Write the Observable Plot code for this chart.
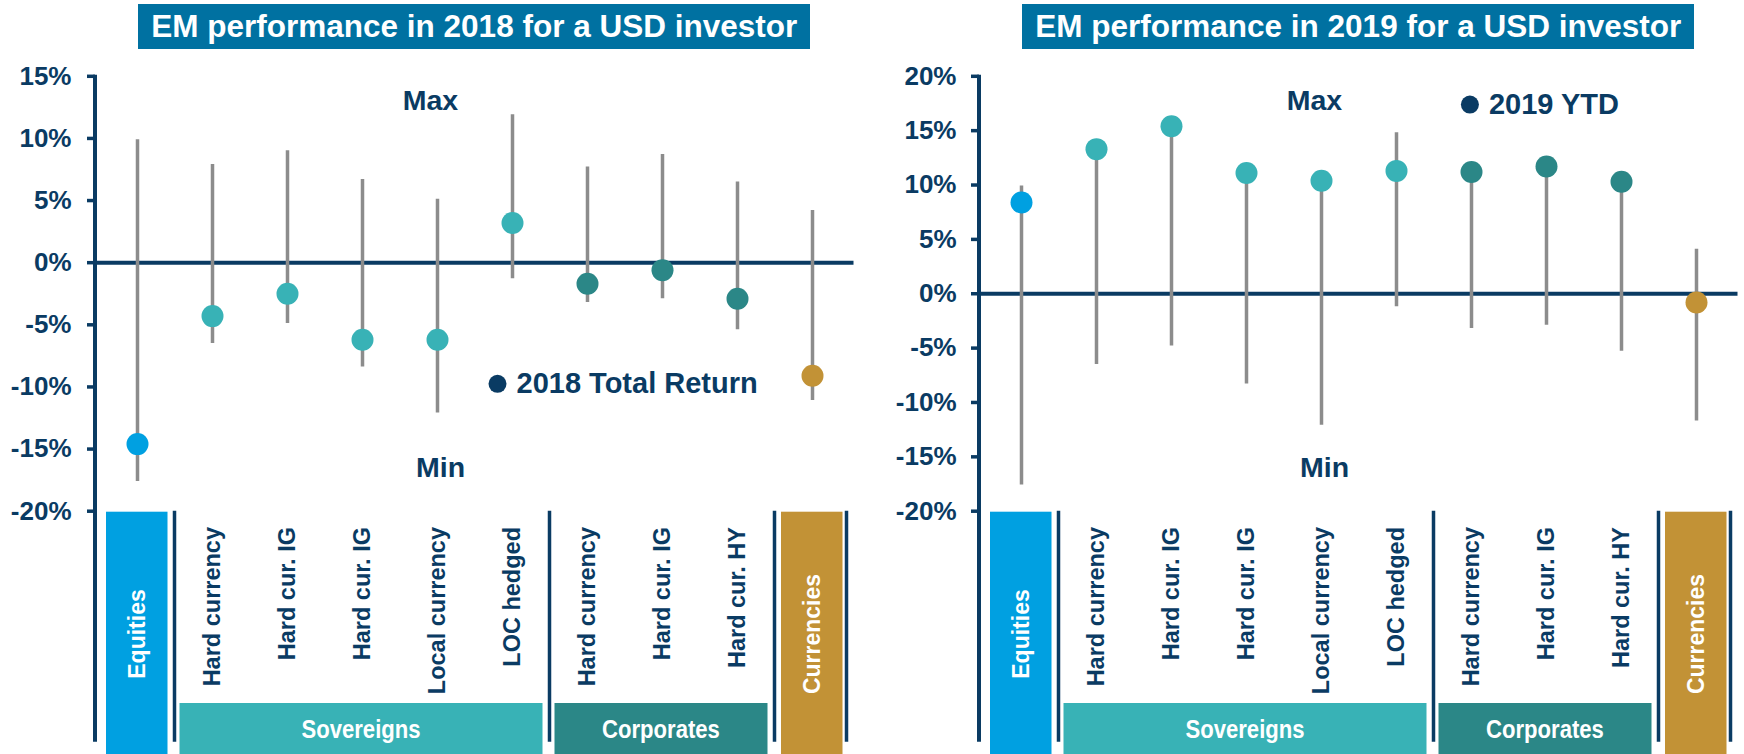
<!DOCTYPE html>
<html><head><meta charset="utf-8">
<script src="https://cdn.jsdelivr.net/npm/d3@7"></script>
<script src="https://cdn.jsdelivr.net/npm/@observablehq/plot@0.6"></script>
<style>
body{margin:0;background:#fff;}
#wrap{display:flex;width:1744px;height:754px;overflow:hidden;}
.panel{position:relative;width:872px;height:754px;}
.title{position:absolute;top:4px;height:45px;background:#0071a1;color:#fff;font:bold 31.5px "Liberation Sans",Arial,sans-serif;line-height:45px;text-align:center;white-space:nowrap;}
svg{display:block}
</style></head><body><div id="wrap"></div>
<script>
// ---- data ----
const categories = ["Equities","Hard currency","Hard cur. IG","Hard cur. IG","Local currency","LOC hedged","Hard currency","Hard cur. IG","Hard cur. HY","Currencies"];
const groupOf = ["Equities","Sovereigns","Sovereigns","Sovereigns","Sovereigns","Sovereigns","Corporates","Corporates","Corporates","Currencies"];
const groupNames = ["Equities","Sovereigns","Corporates","Currencies"];

const min2018 = [-17.6,-6.5,-4.9,-8.4,-12.1,-1.3,-3.2,-2.9,-5.4,-11.1];
const max2018 = [9.9,7.9,9.0,6.7,5.1,11.9,7.7,8.7,6.5,4.2];
const ret2018 = [-14.6,-4.3,-2.5,-6.2,-6.2,3.2,-1.7,-0.6,-2.9,-9.1];

const min2019 = [-17.6,-6.5,-4.8,-8.3,-12.1,-1.2,-3.2,-2.9,-5.3,-11.7];
const max2019 = [9.9,13.3,15.4,11.1,10.4,14.8,11.2,11.7,10.3,4.1];
const ytd2019 = [8.4,13.3,15.4,11.1,10.4,11.3,11.2,11.7,10.3,-0.8];

const ticks2018 = [-20,-15,-10,-5,0,5,10,15];
const ticks2019 = [-20,-15,-10,-5,0,5,10,15,20];

// ---- style ----
const navy = "#0a3b63";
const groupColors = ["#00a0e1","#38b2b6","#2b8787","#c29236"];
const FONT = "'Liberation Sans', Arial, sans-serif";

function makeChart(cfg){
  const W = 872, H = 754;
  const rows = categories.map((c,i)=>({i, cat:c, group:groupOf[i], min:cfg.min[i], max:cfg.max[i], value:cfg.val[i]}));
  const plot = Plot.plot({
    width: W, height: H,
    marginLeft: cfg.marginLeft, marginRight: cfg.marginRight, marginTop: 75.8, marginBottom: 243.3,
    x: {type:"point", domain: d3.range(categories.length), padding: 0.5, axis: null},
    y: {domain: cfg.yDomain, axis: null, label: null},
    color: {domain: groupNames, range: groupColors},
    style: {fontFamily: FONT, fontWeight: "bold", background: "transparent", overflow: "visible"},
    marks: [
      Plot.ruleY([0], {stroke: navy, strokeWidth: 4}),
      Plot.ruleX(rows, {x:"i", y1:"min", y2:"max", stroke:"#8c8c8c", strokeWidth:3.5}),
      Plot.dot(rows, {x:"i", y:"value", r:11, fill:"group"}),
      Plot.axisY({ticks: cfg.ticks, tickFormat: d => d + "%", tickSize: 8, tickPadding: cfg.tickPadding,
        stroke: navy, strokeWidth: 3.5, fill: navy, fontSize: 26, fontWeight: "bold", label: null}),
      Plot.text([{i:4, y:cfg.maxY, t:"Max"}], {x:"i", y:"y", text:"t", dx:-7, fill:navy, fontSize:28.5, fontWeight:"bold"}),
      Plot.text([{i:4, y:cfg.minY, t:"Min"}], {x:"i", y:"y", text:"t", dx:3, fill:navy, fontSize:28.5, fontWeight:"bold"}),
      Plot.dot([{i:cfg.legendKey, y:cfg.legendY}], {x:"i", y:"y", r:9, fill:navy, dx:cfg.legendDx}),
      Plot.text([{i:cfg.legendKey, y:cfg.legendY, t:cfg.legend}], {x:"i", y:"y", text:"t", dx:cfg.legendDx+19, textAnchor:"start", fill:navy, fontSize:29, fontWeight:"bold"})
    ]
  });

  // category panel below the plot, positioned with the plot's scales
  const svg = d3.select(plot);
  const xs = plot.scale("x"), ys = plot.scale("y");
  const step = xs.apply(1) - xs.apply(0);
  const yBottom = ys.apply(cfg.yDomain[0]);
  const yTop = ys.apply(cfg.yDomain[1]);
  const lineEnd = 741.7;
  const g = svg.append("g").attr("font-family", FONT).attr("font-weight", "bold");
  groupNames.forEach((name, gi) => {
    const idx = d3.range(categories.length).filter(i => groupOf[i] === name);
    const x0 = xs.apply(idx[0]) - step/2, x1 = xs.apply(idx[idx.length-1]) + step/2;
    const single = idx.length === 1;
    const top = single ? yBottom + 1 : 703;
    g.append("rect").attr("x", x0 + (single ? 6.5 : 5)).attr("width", x1 - x0 - (single ? 13.5 : 12))
      .attr("y", top).attr("height", H - top).attr("fill", groupColors[gi]);
    if (single) {
      const cx = xs.apply(idx[0]);
      g.append("text").attr("transform", `translate(${cx},634) rotate(-90)`).attr("text-anchor","middle")
        .attr("dy","0.36em").attr("fill","#fff").attr("font-size",23).text(name);
    } else {
      const gx = (x0 + 5 + x1 - 7)/2;
      g.append("text").attr("transform", `translate(${gx},738) scale(0.85,1)`).attr("text-anchor","middle")
        .attr("fill","#fff").attr("font-size",26).text(name);
      idx.forEach(i => {
        g.append("text").attr("transform", `translate(${xs.apply(i)},527) rotate(-90)`).attr("text-anchor","end")
          .attr("dy","0.36em").attr("fill",navy).attr("font-size",23.5).text(categories[i]);
      });
    }
    const sx = gi === groupNames.length - 1 ? x1 - 3 : x1;
    g.append("line").attr("x1", sx).attr("x2", sx).attr("y1", yBottom).attr("y2", lineEnd)
      .attr("stroke", navy).attr("stroke-width", 3.5);
  });
  g.append("line").attr("x1", cfg.marginLeft).attr("x2", cfg.marginLeft).attr("y1", yTop - 1).attr("y2", lineEnd)
    .attr("stroke", navy).attr("stroke-width", 4);

  const panel = document.createElement("div");
  panel.className = "panel";
  panel.appendChild(plot);
  const t = document.createElement("div");
  t.className = "title";
  const cx = (cfg.marginLeft + (W - cfg.marginRight)) / 2;
  t.style.left = (cx - 336) + "px";
  t.style.width = "672px";
  t.textContent = cfg.title;
  panel.appendChild(t);
  document.getElementById("wrap").appendChild(panel);
}

makeChart({title:"EM performance in 2018 for a USD investor", yDomain:[-20,15], ticks:ticks2018,
  min:min2018, max:max2018, val:ret2018, marginLeft:95, marginRight:18.5, tickPadding:16,
  maxY:13.0, minY:-16.5, legend:"2018 Total Return", legendKey:5, legendY:-9.75, legendDx:-15});
makeChart({title:"EM performance in 2019 for a USD investor", yDomain:[-20,20], ticks:ticks2019,
  min:min2019, max:max2019, val:ytd2019, marginLeft:107, marginRight:6.5, tickPadding:15,
  maxY:17.7, minY:-16.0, legend:"2019 YTD", legendKey:6, legendY:17.4, legendDx:-1.6});
</script></body></html>
